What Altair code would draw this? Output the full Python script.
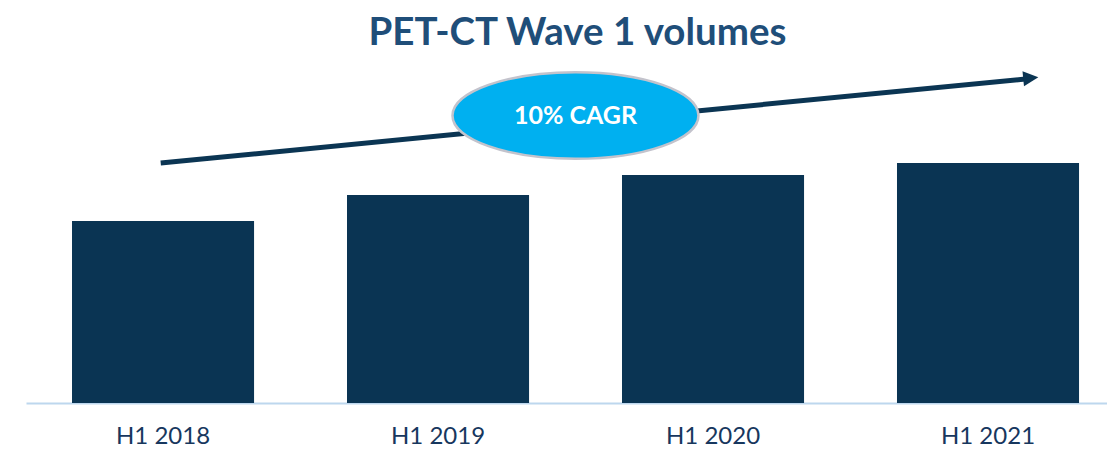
import altair as alt
import pandas as pd

# ---- data ----
periods = ["H1 2018", "H1 2019", "H1 2020", "H1 2021"]
volumes = [182, 208, 228, 240]          # relative volumes
title_text = "PET-CT Wave 1 volumes"
cagr_label = "10% CAGR"

# annotation anchors (fraction of plot width, value units)
arrow_start = (0.1246, 240)
arrow_end = (0.9245, 324)
arrow_head = (0.9295, 325)
bubble = (0.5083, 287.5)

BAR = "#0A3453"
NAVY = "#0B3553"
TITLE = "#1F4E79"
LABEL = "#17375E"
BASE = "#BDD7EE"
CYAN = "#00B0F0"

bars_df = pd.DataFrame({"period": periods, "volume": volumes})
ydom = [0, 343]

bars = alt.Chart(bars_df).mark_bar(color=BAR).encode(
    x=alt.X("period:N", sort=periods,
            scale=alt.Scale(paddingInner=0.338, paddingOuter=0.1345, align=0.622),
            axis=alt.Axis(title=None, labelAngle=0, ticks=False, domainColor=BASE,
                          domainWidth=2, labelFont="Lato", labelFontSize=24,
                          labelColor=LABEL, labelPadding=21)),
    y=alt.Y("volume:Q", scale=alt.Scale(domain=ydom), axis=None),
)

xs = alt.Scale(domain=[0, 1])
ys = alt.Scale(domain=ydom)

shaft_df = pd.DataFrame({"x": [arrow_start[0]], "y": [arrow_start[1]],
                         "x2": [arrow_end[0]], "y2": [arrow_end[1]]})
shaft = alt.Chart(shaft_df).mark_rule(color=NAVY, strokeWidth=5, strokeCap="butt").encode(
    x=alt.X("x:Q", scale=xs, axis=None),
    y=alt.Y("y:Q", scale=ys, axis=None),
    x2="x2:Q", y2="y2:Q",
)

head_df = pd.DataFrame({"x": [arrow_head[0]], "y": [arrow_head[1]]})
head = alt.Chart(head_df).mark_point(
    shape="M-1,-1L1,0L-1,1Z", size=230, filled=True, color=NAVY, opacity=1, angle=354.4
).encode(
    x=alt.X("x:Q", scale=xs, axis=None),
    y=alt.Y("y:Q", scale=ys, axis=None),
)

bub_df = pd.DataFrame({"x": [bubble[0]], "y": [bubble[1]], "label": [cagr_label]})
ellipse = alt.Chart(bub_df).mark_point(
    shape="M-1,0A1,0.352 0 1,1 1,0A1,0.352 0 1,1 -1,0Z", size=60500,
    filled=True, fill=CYAN, stroke="#C3C3CC", strokeWidth=2.5, opacity=1,
    fillOpacity=1, strokeOpacity=1,
).encode(
    x=alt.X("x:Q", scale=xs, axis=None),
    y=alt.Y("y:Q", scale=ys, axis=None),
)
txt = alt.Chart(bub_df).mark_text(
    font="Lato", fontSize=25, fontWeight="bold", color="white", baseline="middle", align="center"
).encode(
    x=alt.X("x:Q", scale=xs, axis=None),
    y=alt.Y("y:Q", scale=ys, axis=None),
    text="label:N",
)

chart = alt.layer(bars, shaft, ellipse, txt, head).resolve_scale(x="independent").properties(
    width=1081, height=343,
    padding={"left": 18, "top": 5, "right": 0, "bottom": 0},
    title=alt.TitleParams(title_text, font="Lato", fontSize=38.5, fontWeight="bold",
                          color=TITLE, anchor="middle", dx=11, offset=7),
).configure(background="white", view=alt.ViewConfig(stroke=None))

chart.save("out.html", embed_options={"renderer": "svg", "actions": False})
